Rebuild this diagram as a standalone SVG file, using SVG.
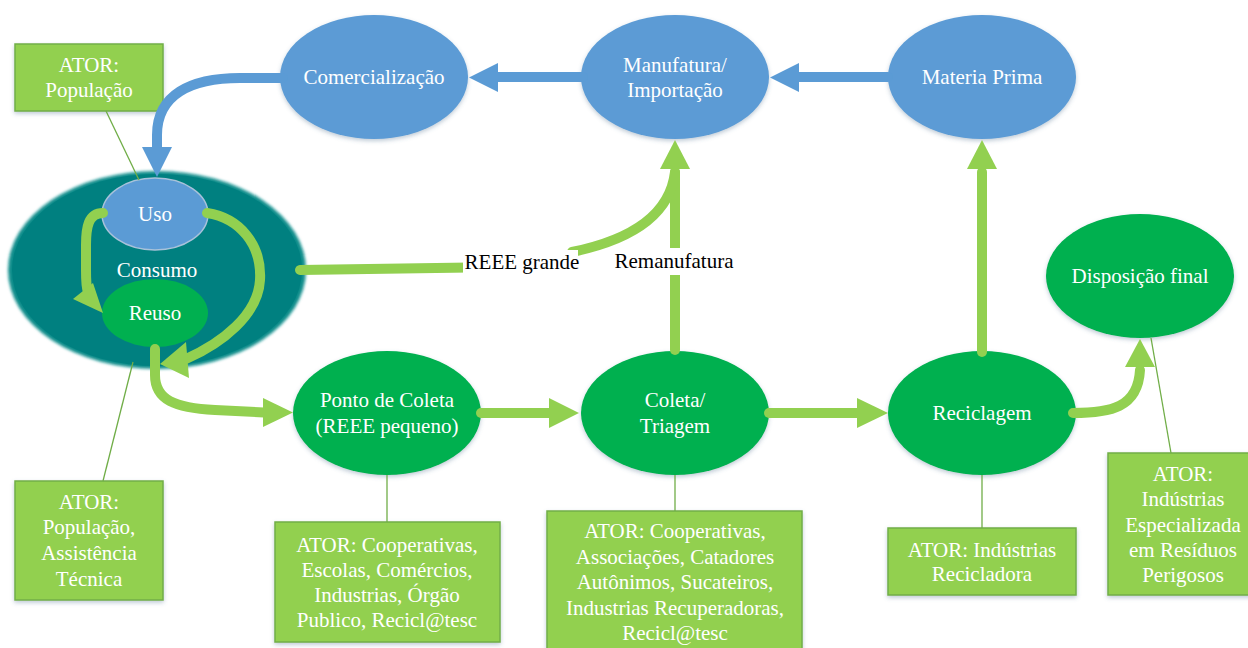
<svg xmlns="http://www.w3.org/2000/svg" width="1248" height="648" viewBox="0 0 1248 648">
<defs>
<filter id="sh" x="-20%" y="-20%" width="140%" height="140%">
<feDropShadow dx="0" dy="2" stdDeviation="2.2" flood-color="#4a6a8a" flood-opacity="0.35"/>
</filter>
<filter id="glow" x="-10%" y="-10%" width="120%" height="120%">
<feGaussianBlur in="SourceGraphic" stdDeviation="1.6"/>
</filter>
</defs>
<style>
text{font-family:"Liberation Serif","Times New Roman",serif;font-size:21px;text-anchor:middle}
.w{fill:#ffffff}
.k{fill:#000000}
.blue{fill:#5B9BD5}
.green{fill:#00B050}
.box{fill:#92D050;stroke:#72AE46;stroke-width:1.5;filter:url(#sh)}
.ell{filter:url(#sh)}
.gs{fill:none;stroke:#92D050;stroke-width:10;stroke-linecap:round;stroke-linejoin:round}
.bs{fill:none;stroke:#5B9BD5;stroke-width:10;stroke-linecap:round}
.gh{fill:#92D050}
.bh{fill:#5B9BD5}
.thin{fill:none;stroke:#70AD47;stroke-width:1.3}
</style>
<rect width="1248" height="648" fill="#ffffff"/>

<g id="consumo">
<ellipse cx="157" cy="270" rx="149" ry="99" fill="#0E8C8A" filter="url(#glow)"/>
<ellipse cx="157" cy="270" rx="145" ry="96" fill="#008080"/>
<text class="w" x="157" y="277">Consumo</text>
</g>
<g id="uso">
<ellipse cx="155" cy="214" rx="53" ry="36" fill="#5B9BD5" stroke="#A8C2DA" stroke-width="1.5"/>
<text class="w" x="155" y="221">Uso</text>
</g>
<g id="reuso">
<ellipse cx="155" cy="313" rx="53" ry="34" class="green"/>
<text class="w" x="155" y="320">Reuso</text>
</g>
<g id="comercializacao">
<ellipse class="blue ell" cx="374" cy="77" rx="94" ry="62"/>
<text class="w" x="374" y="84">Comercialização</text>
</g>
<g id="manufatura">
<ellipse class="blue ell" cx="675" cy="77" rx="94" ry="62"/>
<text class="w" x="675" y="72">Manufatura/</text>
<text class="w" x="675" y="97">Importação</text>
</g>
<g id="materia-prima">
<ellipse class="blue ell" cx="982" cy="77" rx="94" ry="62"/>
<text class="w" x="982" y="84">Materia Prima</text>
</g>
<g id="ponto-coleta">
<ellipse class="green ell" cx="387" cy="413" rx="94" ry="62"/>
<text class="w" x="387" y="407">Ponto de Coleta</text>
<text class="w" x="387" y="433">(REEE pequeno)</text>
</g>
<g id="coleta-triagem">
<ellipse class="green ell" cx="675" cy="413" rx="94" ry="62"/>
<text class="w" x="675" y="407">Coleta/</text>
<text class="w" x="675" y="433">Triagem</text>
</g>
<g id="reciclagem">
<ellipse class="green ell" cx="982" cy="413" rx="94" ry="62"/>
<text class="w" x="982" y="420">Reciclagem</text>
</g>
<g id="disposicao-final">
<ellipse class="green ell" cx="1140" cy="276" rx="94" ry="62"/>
<text class="w" x="1140" y="283">Disposição final</text>
</g>

<g id="ator-populacao">
<rect class="box" x="15" y="44" width="148" height="67"/>
<text class="w" x="89" y="72">ATOR:</text>
<text class="w" x="89" y="97">População</text>
</g>
<g id="ator-populacao-assistencia">
<rect class="box" x="15" y="481" width="148" height="119"/>
<text class="w" x="89" y="509">ATOR:</text>
<text class="w" x="89" y="534">População,</text>
<text class="w" x="89" y="560">Assistência</text>
<text class="w" x="89" y="586">Técnica</text>
</g>
<g id="ator-ponto">
<rect class="box" x="275" y="522" width="225" height="120"/>
<text class="w" x="387" y="552">ATOR: Cooperativas,</text>
<text class="w" x="387" y="577">Escolas, Comércios,</text>
<text class="w" x="387" y="602">Industrias, Órgão</text>
<text class="w" x="387" y="627">Publico, Recicl@tesc</text>
</g>
<g id="ator-coleta">
<rect class="box" x="547" y="511" width="255" height="150"/>
<text class="w" x="675" y="538">ATOR: Cooperativas,</text>
<text class="w" x="675" y="564">Associações, Catadores</text>
<text class="w" x="675" y="589">Autônimos, Sucateiros,</text>
<text class="w" x="675" y="615">Industrias Recuperadoras,</text>
<text class="w" x="675" y="640">Recicl@tesc</text>
</g>
<g id="ator-reciclagem">
<rect class="box" x="888" y="528" width="188" height="67"/>
<text class="w" x="982" y="557">ATOR: Indústrias</text>
<text class="w" x="982" y="581">Recicladora</text>
</g>
<g id="ator-disposicao">
<rect class="box" x="1108" y="453" width="151" height="142"/>
<text class="w" x="1183" y="481">ATOR:</text>
<text class="w" x="1183" y="506">Indústrias</text>
<text class="w" x="1183" y="532">Especializada</text>
<text class="w" x="1183" y="557">em Resíduos</text>
<text class="w" x="1183" y="582">Perigosos</text>
</g>

<g id="connectors">
<!-- thin actor lines -->
<line class="thin" x1="106" y1="111" x2="139" y2="180"/>
<line class="thin" x1="133" y1="362" x2="103" y2="481"/>
<line class="thin" x1="387" y1="475" x2="387" y2="522"/>
<line class="thin" x1="675" y1="475" x2="675" y2="511"/>
<line class="thin" x1="982" y1="475" x2="982" y2="528"/>
<line class="thin" x1="1151" y1="338" x2="1171" y2="453"/>

<!-- blue flows -->
<path class="bs" d="M888,77 L796,77"/>
<polygon class="bh" points="799,63 799,92 770,77.5"/>
<path class="bs" d="M583,77 L495,77"/>
<polygon class="bh" points="498,63 498,92 469,77.5"/>
<path class="bs" d="M283,78 L240,78 C190,78 157,95 157,135 L157,149" style="stroke-linecap:round"/>
<polygon class="bh" points="142,147 172,147 157,177"/>

<!-- green flows inside consumo -->
<path class="gs" d="M103,213 C88,213 86,228 86,245 L86,270 C86,280 86,287 88,292"/>
<polygon class="gh" points="73,299 93,283 103,313"/>
<path class="gs" d="M207,213 C240,218 262,245 260,280 C258,315 222,343 186,359"/>
<polygon class="gh" points="186,342 189,378 160,364"/>

<!-- reuso to ponto -->
<path class="gs" d="M155,349 L155,375 C155,400 175,408 215,410 L264,412.5"/>
<polygon class="gh" points="263,398 263,427 293,412.5"/>

<!-- bottom row -->
<path class="gs" d="M481,413 L552,413"/>
<polygon class="gh" points="549,398 549,428 579,413"/>
<path class="gs" d="M769,413 L860,413"/>
<polygon class="gh" points="857,398 857,428 888,413"/>

<!-- reciclagem to materia prima -->
<path class="gs" d="M982,352 L982,172"/>
<polygon class="gh" points="967,169 997,169 982,140"/>

<!-- reciclagem to disposicao -->
<path class="gs" d="M1073,413 C1110,413 1138,408 1140,370"/>
<polygon class="gh" points="1125,367 1155,367 1140,339"/>

<!-- remanufatura and REEE grande -->
<path class="gs" d="M675,350 L675,172"/>
<path class="gs" d="M300,270 L470,267.5"/>
<path class="gs" d="M572,252 C630,240 670,215 675,172"/>
<polygon class="gh" points="660,169 690,169 675,140"/>
<rect x="463" y="250" width="115" height="28" fill="#ffffff"/>
<text class="k" x="522" y="269">REEE grande</text>
<rect x="612" y="248" width="124" height="27" fill="#ffffff"/>
<text class="k" x="674" y="268">Remanufatura</text>
</g>
</svg>
